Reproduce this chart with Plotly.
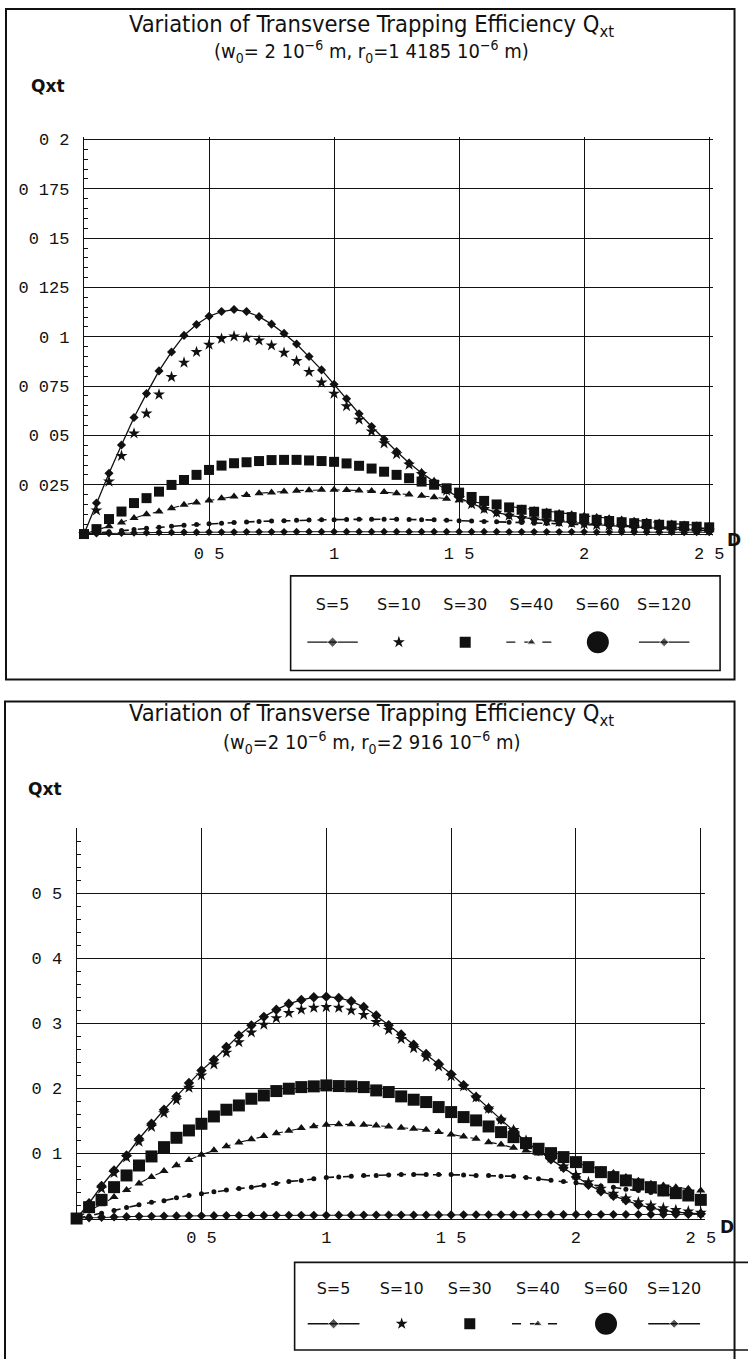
import plotly.graph_objects as go

W, H = 748, 1359

D = [0.0, 0.05, 0.1, 0.15, 0.2, 0.25, 0.3, 0.35, 0.4, 0.45, 0.5, 0.55, 0.6, 0.65, 0.7, 0.75,
     0.8, 0.85, 0.9, 0.95, 1.0, 1.05, 1.1, 1.15, 1.2, 1.25, 1.3, 1.35, 1.4, 1.45, 1.5, 1.55,
     1.6, 1.65, 1.7, 1.75, 1.8, 1.85, 1.9, 1.95, 2.0, 2.05, 2.1, 2.15, 2.2, 2.25, 2.3, 2.35,
     2.4, 2.45, 2.5]

labels = ["S=5", "S=10", "S=30", "S=40", "S=60", "S=120"]

# ---- top chart (r0 = 1.4185e-6 m)
top_s5 = [0, 0.0157, 0.0308, 0.0451, 0.0591, 0.0712, 0.0827, 0.0923, 0.1007, 0.1062, 0.1104,
          0.1128, 0.1138, 0.1128, 0.1102, 0.1064, 0.1017, 0.0963, 0.0900, 0.0832, 0.0759,
          0.0686, 0.0610, 0.0545, 0.0480, 0.0418, 0.0360, 0.0310, 0.0265, 0.0222, 0.0185,
          0.0155, 0.0130, 0.0110, 0.0095, 0.0084, 0.0076, 0.0069, 0.0063, 0.0058, 0.0053,
          0.0048, 0.0043, 0.0039, 0.0035, 0.0031, 0.0028, 0.0025, 0.0022, 0.0020, 0.0018]
top_s10 = [0, 0.0120, 0.0266, 0.0396, 0.0510, 0.0611, 0.0707, 0.0796, 0.0869, 0.0923, 0.0960,
           0.0990, 0.1002, 0.0995, 0.0981, 0.0956, 0.0919, 0.0877, 0.0822, 0.0768, 0.0712,
           0.0648, 0.0580, 0.0520, 0.0460, 0.0405, 0.0352, 0.0305, 0.0260, 0.0220, 0.0182,
           0.0152, 0.0127, 0.0108, 0.0093, 0.0082, 0.0074, 0.0067, 0.0061, 0.0056, 0.0051,
           0.0046, 0.0042, 0.0038, 0.0034, 0.0030, 0.0027, 0.0024, 0.0021, 0.0019, 0.0017]
top_s30 = [0, 0.0025, 0.0076, 0.0114, 0.0157, 0.0182, 0.0215, 0.0249, 0.0274, 0.0300, 0.0325,
           0.0347, 0.0359, 0.0364, 0.0370, 0.0375, 0.0376, 0.0376, 0.0373, 0.0370, 0.0366,
           0.0358, 0.0346, 0.0332, 0.0316, 0.0300, 0.0283, 0.0266, 0.0250, 0.0232, 0.0210,
           0.0188, 0.0168, 0.0150, 0.0135, 0.0123, 0.0113, 0.0103, 0.0094, 0.0086, 0.0079,
           0.0072, 0.0066, 0.0060, 0.0055, 0.0051, 0.0047, 0.0043, 0.0040, 0.0037, 0.0034]
top_s40 = [0, 0.0020, 0.0040, 0.0058, 0.0081, 0.0100, 0.0114, 0.0131, 0.0148, 0.0160, 0.0170,
           0.0182, 0.0190, 0.0198, 0.0207, 0.0211, 0.0216, 0.0220, 0.0222, 0.0224, 0.0224,
           0.0223, 0.0221, 0.0218, 0.0213, 0.0207, 0.0201, 0.0194, 0.0187, 0.0179, 0.0171,
           0.0163, 0.0155, 0.0146, 0.0138, 0.0130, 0.0122, 0.0114, 0.0107, 0.0100, 0.0093,
           0.0086, 0.0080, 0.0074, 0.0068, 0.0063, 0.0058, 0.0053, 0.0049, 0.0045, 0.0041]
top_s60 = [0, 0.0006, 0.0012, 0.0018, 0.0023, 0.0029, 0.0034, 0.0039, 0.0044, 0.0048, 0.0052,
           0.0055, 0.0058, 0.0061, 0.0064, 0.0066, 0.0068, 0.0070, 0.0071, 0.0072, 0.0073,
           0.0074, 0.0075, 0.0075, 0.0075, 0.0075, 0.0074, 0.0073, 0.0072, 0.0070, 0.0068,
           0.0066, 0.0064, 0.0062, 0.0060, 0.0058, 0.0055, 0.0053, 0.0051, 0.0049, 0.0047,
           0.0045, 0.0043, 0.0041, 0.0039, 0.0037, 0.0035, 0.0033, 0.0031, 0.0030, 0.0028]
top_s120 = [0, 0.0002, 0.0004, 0.0005, 0.0006, 0.0007, 0.0008, 0.0008, 0.0009, 0.0009, 0.0010,
            0.0010, 0.0010, 0.0011, 0.0011, 0.0011, 0.0011, 0.0012, 0.0012, 0.0012, 0.0012,
            0.0012, 0.0012, 0.0012, 0.0012, 0.0012, 0.0012, 0.0012, 0.0012, 0.0012, 0.0012,
            0.0012, 0.0012, 0.0012, 0.0011, 0.0011, 0.0011, 0.0011, 0.0011, 0.0011, 0.0011,
            0.0010, 0.0010, 0.0010, 0.0010, 0.0010, 0.0010, 0.0010, 0.0009, 0.0009, 0.0009]

# ---- bottom chart (r0 = 2.916e-6 m)
bot_s5 = [0, 0.0235, 0.0500, 0.0738, 0.0969, 0.1226, 0.1457, 0.1672, 0.1877, 0.2082, 0.2277,
          0.2441, 0.2636, 0.2815, 0.2969, 0.3100, 0.3210, 0.3300, 0.3360, 0.3400, 0.3410,
          0.3390, 0.3340, 0.3250, 0.3120, 0.2970, 0.2830, 0.2670, 0.2530, 0.2380, 0.2220,
          0.2050, 0.1870, 0.1690, 0.1520, 0.1350, 0.1180, 0.1040, 0.0910, 0.0780, 0.0640,
          0.0520, 0.0420, 0.0350, 0.0280, 0.0210, 0.0165, 0.0125, 0.0098, 0.0082, 0.0072]
bot_s10 = [0, 0.021, 0.046, 0.070, 0.094, 0.118, 0.141, 0.162, 0.182, 0.201, 0.220,
           0.237, 0.255, 0.271, 0.286, 0.298, 0.308, 0.316, 0.321, 0.324, 0.325,
           0.324, 0.320, 0.313, 0.302, 0.290, 0.276, 0.262, 0.248, 0.234, 0.219,
           0.203, 0.186, 0.169, 0.152, 0.136, 0.120, 0.106, 0.093, 0.080, 0.067,
           0.056, 0.046, 0.038, 0.031, 0.025, 0.020, 0.016, 0.013, 0.011, 0.009]
bot_s30 = [0, 0.0174, 0.0287, 0.0482, 0.0662, 0.0815, 0.0954, 0.1097, 0.1241, 0.1354, 0.1456,
           0.1569, 0.1672, 0.1738, 0.1841, 0.1892, 0.1959, 0.1995, 0.2020, 0.2031, 0.2046,
           0.2036, 0.2031, 0.2020, 0.1969, 0.1944, 0.1877, 0.1826, 0.1790, 0.1713, 0.1636,
           0.1559, 0.1508, 0.1415, 0.1328, 0.1251, 0.1159, 0.1072, 0.1005, 0.0944, 0.0867,
           0.0790, 0.0713, 0.0636, 0.0585, 0.0523, 0.0482, 0.0431, 0.0390, 0.0354, 0.0287]
bot_s40 = [0, 0.012, 0.022, 0.033, 0.044, 0.054, 0.064, 0.073, 0.082, 0.090, 0.098,
           0.105, 0.111, 0.117, 0.122, 0.127, 0.131, 0.135, 0.139, 0.142, 0.144,
           0.145, 0.145, 0.144, 0.143, 0.1415, 0.1395, 0.138, 0.1364, 0.1328, 0.1292,
           0.1262, 0.1226, 0.1174, 0.1138, 0.1087, 0.1046, 0.100, 0.096, 0.091, 0.086,
           0.081, 0.075, 0.070, 0.064, 0.058, 0.0533, 0.0508, 0.048, 0.0456, 0.043]
bot_s60 = [0, 0.004, 0.008, 0.0125, 0.017, 0.021, 0.025, 0.0275, 0.032, 0.0355, 0.038,
           0.041, 0.044, 0.046, 0.048, 0.051, 0.054, 0.057, 0.0585, 0.061, 0.063,
           0.064, 0.065, 0.066, 0.066, 0.067, 0.0677, 0.0677, 0.0677, 0.0677, 0.0675,
           0.067, 0.066, 0.066, 0.065, 0.065, 0.063, 0.061, 0.059, 0.057, 0.055,
           0.053, 0.050, 0.048, 0.045, 0.043, 0.040, 0.038, 0.035, 0.033, 0.030]
bot_s120 = [0, 0.0010, 0.0018, 0.0024, 0.0029, 0.0033, 0.0036, 0.0038, 0.0040, 0.0042, 0.0043,
            0.0044, 0.0045, 0.0046, 0.0047, 0.0048, 0.0049, 0.0050, 0.0050, 0.0051, 0.0051,
            0.0052, 0.0052, 0.0053, 0.0053, 0.0054, 0.0054, 0.0055, 0.0055, 0.0056, 0.0056,
            0.0057, 0.0057, 0.0058, 0.0058, 0.0059, 0.0059, 0.0060, 0.0060, 0.0060, 0.0061,
            0.0061, 0.0061, 0.0062, 0.0062, 0.0062, 0.0063, 0.0063, 0.0063, 0.0063, 0.0064]

top_series = [top_s5, top_s10, top_s30, top_s40, top_s60, top_s120]
bot_series = [bot_s5, bot_s10, bot_s30, bot_s40, bot_s60, bot_s120]

x_tickvals = [0.5, 1.0, 1.5, 2.0, 2.5]
x_ticktext = ["0 5", "1", "1 5", "2", "2 5"]
top_y_tickvals = [0.025, 0.05, 0.075, 0.1, 0.125, 0.15, 0.175, 0.2]
top_y_ticktext = ["0 025", "0 05", "0 075", "0 1", "0 125", "0 15", "0 175", "0 2"]
bot_y_tickvals = [0.1, 0.2, 0.3, 0.4, 0.5]
bot_y_ticktext = ["0 1", "0 2", "0 3", "0 4", "0 5"]

BLK = "#111111"
MONO = "Liberation Mono, Courier New, monospace"
SANS = "DejaVu Sans, Verdana, sans-serif"
TITLEF = "DejaVu Sans Condensed, Liberation Sans Narrow, Roboto, sans-serif"

KX = 1.015  # horizontal layout stretch


def px(x):
    return min(x * KX, W) / W


def py(y):
    return 1 - y / H


def styles(big):
    sq = 12 if big else 10
    return [
        dict(mode="lines+markers", line=dict(color=BLK, width=1.3),
             marker=dict(symbol="diamond", size=8 if big else 7, color=BLK)),
        dict(mode="markers", marker=dict(symbol="star", size=9, color=BLK)),
        dict(mode="markers", marker=dict(symbol="square", size=sq, color=BLK)),
        dict(mode="lines+markers", line=dict(color=BLK, width=1.1, dash="dash"),
             marker=dict(symbol="triangle-up", size=8, color=BLK)),
        dict(mode="lines+markers", line=dict(color=BLK, width=1.6, dash="9px,9px"),
             marker=dict(symbol="circle", size=5, color=BLK)),
        dict(mode="lines+markers", line=dict(color=BLK, width=1),
             marker=dict(symbol="diamond", size=7 if big else 6, color=BLK)),
    ]


fig = go.Figure()

for series, xa, ya, big in [(top_series, "x", "y", False), (bot_series, "x2", "y2", True)]:
    for lab, vals, st in zip(labels, series, styles(big)):
        fig.add_trace(go.Scatter(x=D, y=vals, name=lab, xaxis=xa, yaxis=ya,
                                 cliponaxis=False, showlegend=False, hoverinfo="skip", **st))

# ---- hand-made legends (labels above samples) on their own axes
leg_samples = [
    dict(kind="line", marker=dict(symbol="diamond", size=8, color=BLK), dash="solid"),
    dict(kind="point", marker=dict(symbol="star", size=9, color=BLK)),
    dict(kind="point", marker=dict(symbol="square", size=11, color=BLK)),
    dict(kind="line", marker=dict(symbol="triangle-up", size=8, color=BLK), dash="dash"),
    dict(kind="point", marker=dict(symbol="circle", size=22, color=BLK)),
    dict(kind="line", marker=dict(symbol="diamond", size=7, color=BLK), dash="solid"),
]
for xa, ya in [("x3", "y3"), ("x4", "y4")]:
    idx = list(range(len(labels)))
    fig.add_trace(go.Scatter(x=idx, y=[0.68] * len(labels), text=labels, mode="text",
                             textfont=dict(family=SANS, size=16, color=BLK),
                             xaxis=xa, yaxis=ya, showlegend=False, hoverinfo="skip"))
    for i, s in enumerate(leg_samples):
        if s["kind"] == "line":
            fig.add_trace(go.Scatter(x=[i - 0.38, i, i + 0.38], y=[0.3] * 3, mode="lines+markers",
                                     line=dict(color=BLK, width=1.3, dash=s["dash"]),
                                     marker=dict(symbol=s["marker"]["symbol"],
                                                 size=[0, s["marker"]["size"], 0], color=BLK),
                                     xaxis=xa, yaxis=ya, showlegend=False, hoverinfo="skip"))
        else:
            fig.add_trace(go.Scatter(x=[i], y=[0.3], mode="markers", marker=s["marker"],
                                     xaxis=xa, yaxis=ya, showlegend=False, hoverinfo="skip"))


def xaxis_cfg(domain, xmax):
    return dict(domain=domain, range=[0, xmax], tickmode="array", tickvals=x_tickvals,
                ticktext=x_ticktext, showgrid=True, gridcolor=BLK, gridwidth=1,
                showline=True, linecolor=BLK, linewidth=1.2, zeroline=False, ticks="",
                tickfont=dict(family=MONO, size=17, color=BLK), ticklabelstandoff=3,
                fixedrange=True)


def yaxis_cfg(domain, rng, tv, tt, minor_dt, anchor):
    return dict(domain=domain, range=rng, tickmode="array", tickvals=tv, ticktext=tt,
                showgrid=True, gridcolor=BLK, gridwidth=1, showline=True, linecolor=BLK,
                linewidth=1.2, zeroline=False, ticks="inside", ticklen=6, tickcolor=BLK,
                minor=dict(dtick=minor_dt, ticks="inside", ticklen=4, tickcolor=BLK, showgrid=False),
                tickfont=dict(family=MONO, size=17, color=BLK), ticklabelstandoff=10,
                anchor=anchor, fixedrange=True)


# axis ranges extend slightly past the last grid line so that the edge grid lines are drawn
TOP_XMAX, TOP_YMAX = 2.515, 0.2015
BOT_XMAX, BOT_YMAX = 2.515, 0.6

top_x0, top_ppu_x = 84.1, 250.4
top_y0, top_ppu_y = 531.0, 1980.0
bot_x0, bot_ppu_x = 76.7, 250.0
bot_y0, bot_ppu_y = 1218.0, 653.0

top_xd = [px(top_x0), px(top_x0 + TOP_XMAX * top_ppu_x)]
top_yd = [py(top_y0), py(top_y0 - TOP_YMAX * top_ppu_y)]
bot_xd = [px(bot_x0), px(bot_x0 + BOT_XMAX * bot_ppu_x)]
bot_yd = [py(bot_y0), py(bot_y0 - BOT_YMAX * bot_ppu_y)]

# legend column layout: first label centre and spacing (reference pixels)
top_leg_c0, top_leg_dx = 333.0, 66.4
bot_leg_c0, bot_leg_dx = 334.0, 68.2
top_leg_l, top_leg_r = 291.0, 721.0
bot_leg_l = 295.0
bot_leg_r = W / KX

leg_off = dict(visible=False, fixedrange=True)

fig.update_layout(
    width=W, height=H, autosize=False, margin=dict(l=0, r=0, t=0, b=0, pad=0),
    paper_bgcolor="white", plot_bgcolor="white", showlegend=False,
    xaxis=dict(anchor="y", **xaxis_cfg(top_xd, TOP_XMAX)),
    yaxis=yaxis_cfg(top_yd, [0, TOP_YMAX], top_y_tickvals, top_y_ticktext, 0.005, "x"),
    xaxis2=dict(anchor="y2", **xaxis_cfg(bot_xd, BOT_XMAX)),
    yaxis2=yaxis_cfg(bot_yd, [0, BOT_YMAX], bot_y_tickvals, bot_y_ticktext, 0.02, "x2"),
    xaxis3=dict(domain=[px(top_leg_l), px(top_leg_r)],
                range=[(top_leg_l - top_leg_c0) / top_leg_dx, (top_leg_r - top_leg_c0) / top_leg_dx],
                anchor="y3", **leg_off),
    yaxis3=dict(domain=[py(668), py(573)], range=[0, 1], anchor="x3", **leg_off),
    xaxis4=dict(domain=[px(bot_leg_l), 1.0],
                range=[(bot_leg_l - bot_leg_c0) / bot_leg_dx, (bot_leg_r - bot_leg_c0) / bot_leg_dx],
                anchor="y4", **leg_off),
    yaxis4=dict(domain=[py(1350), py(1262)], range=[0, 1], anchor="x4", **leg_off),
)

shapes = [
    # outer frames
    dict(type="rect", xref="paper", yref="paper", x0=px(6), x1=0.998, y0=py(677), y1=py(4),
         line=dict(color=BLK, width=2)),
    dict(type="rect", xref="paper", yref="paper", x0=px(5), x1=0.998, y0=py(1375), y1=py(699),
         line=dict(color=BLK, width=2)),
    # legend boxes
    dict(type="rect", xref="paper", yref="paper", x0=px(top_leg_l), x1=px(top_leg_r),
         y0=py(668), y1=py(573), line=dict(color=BLK, width=1.6)),
    dict(type="rect", xref="paper", yref="paper", x0=px(bot_leg_l), x1=1.05,
         y0=py(1350), y1=py(1262), line=dict(color=BLK, width=1.6)),
]
fig.update_layout(shapes=shapes)

ann = []


def text(x, y, t, size, family, bold=False, xanchor="center"):
    ann.append(dict(x=px(x), y=py(y), xref="paper", yref="paper", text=f"<b>{t}</b>" if bold else t,
                    showarrow=False, xanchor=xanchor, yanchor="middle",
                    font=dict(family=family, size=size, color=BLK)))


text(372, 21, "Variation of Transverse Trapping Efficiency Q<sub>xt</sub>", 23.5, TITLEF)
text(372, 47, "(w<sub>0</sub>= 2 10<sup>−6</sup> m, r<sub>0</sub>=1 4185 10<sup>−6</sup> m)", 20, TITLEF)
text(48, 81, "Qxt", 17, SANS, bold=True)
text(735, 537, "D", 17, SANS, bold=True)

text(372, 712, "Variation of Transverse Trapping Efficiency Q<sub>xt</sub>", 23.5, TITLEF)
text(372, 740, "(w<sub>0</sub>=2 10<sup>−6</sup> m, r<sub>0</sub>=2 916 10<sup>−6</sup> m)", 20, TITLEF)
text(45, 787, "Qxt", 17, SANS, bold=True)
text(728, 1227, "D", 17, SANS, bold=True)

fig.update_layout(annotations=ann)

fig.write_html("out.html", config={"responsive": False})
